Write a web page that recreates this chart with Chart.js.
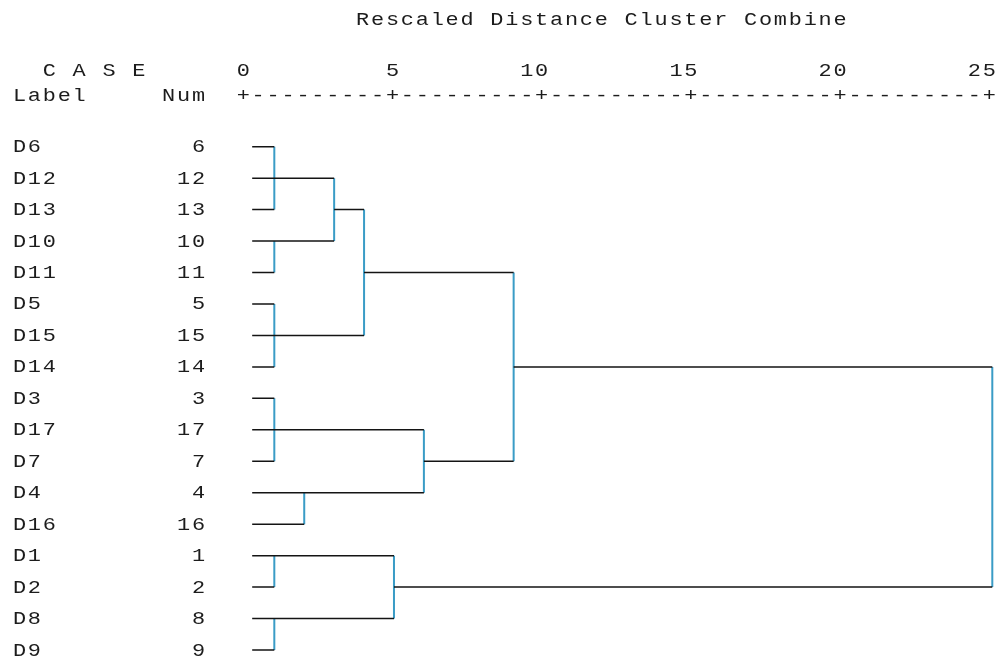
<!DOCTYPE html>
<html>
<head>
<meta charset="utf-8">
<script src="https://cdn.jsdelivr.net/npm/chart.js@4"></script>
<style>
  html, body { margin: 0; padding: 0; background: #ffffff; }
  #wrap { width: 1006px; height: 659px; position: relative; }
</style>
</head>
<body>
<div id="wrap"><canvas id="c" width="1006" height="659"></canvas></div>
<script>
// ---- data ----
const leafLabels = ['D6','D12','D13','D10','D11','D5','D15','D14','D3','D17','D7','D4','D16','D1','D2','D8','D9'];
const leafNums   = [6, 12, 13, 10, 11, 5, 15, 14, 3, 17, 7, 4, 16, 1, 2, 8, 9];
// agglomeration: positive = case number, negative = earlier step (1-based)
const mergeA    = [6, -1, 10, 5, -4, 3, -6, 1, 8, 4, -2, -11, -8, -7, -12, -15];
const mergeB    = [12, 13, 11, 15, 14, 17, 7, 2, 9, 16, -3, -5, -9, -10, -14, -13];
const mergeDist = [1, 1, 1, 1, 1, 1, 1, 1, 1, 2, 3, 4, 5, 6, 9, 25];
const tickValues = [0, 5, 10, 15, 20, 25];
const titleText = 'Rescaled Distance Cluster Combine';
const caseHeader = 'C A S E';
const labelHeader = 'Label';
const numHeader = 'Num';

// ---- style ----
const LEAF_START = 0.26;
const CELL_W = 14.92;
const GRID_X0 = 12.0;
const FONT = '18px "Liberation Mono", "DejaVu Sans Mono", monospace';
const TEXT_COLOR = '#1c1c1c';
const H_COLOR = '#141414';
const V_COLOR = '#3a9cc6';

// ---- build segments ----
const clusters = [];
function node(id) {
  if (id > 0) return { row: leafNums.indexOf(id), x: LEAF_START };
  return clusters[-id - 1];
}
const horiz = [], vert = [];
for (let i = 0; i < mergeDist.length; i++) {
  const a = node(mergeA[i]), b = node(mergeB[i]), d = mergeDist[i];
  horiz.push({x: a.x, y: a.row}, {x: d, y: a.row}, {x: d, y: null});
  horiz.push({x: b.x, y: b.row}, {x: d, y: b.row}, {x: d, y: null});
  vert.push({x: d, y: a.row}, {x: d, y: b.row}, {x: d, y: null});
  clusters.push({ row: Math.floor((a.row + b.row) / 2), x: d });
}

// ---- text plugin ----
function drawGridText(ctx, str, col, baseline, sx) {
  for (let k = 0; k < str.length; k++) {
    const ch = str[k];
    if (ch === ' ') continue;
    const cx = GRID_X0 + (col + k + 0.5) * CELL_W;
    ctx.save();
    ctx.translate(cx, baseline);
    ctx.scale(sx, 1);
    ctx.fillText(ch, 0, 0);
    ctx.restore();
  }
}
const textPlugin = {
  id: 'spssText',
  afterDraw(chart) {
    const ctx = chart.ctx;
    const ys = chart.scales.y;
    ctx.save();
    ctx.font = FONT;
    ctx.fillStyle = TEXT_COLOR;
    ctx.textAlign = 'center';
    ctx.textBaseline = 'alphabetic';
    const sx = 0.88 * CELL_W / ctx.measureText('M').width;
    const axisCol = 15;
    drawGridText(ctx, titleText, axisCol + 8, 24.5, sx);
    drawGridText(ctx, caseHeader, 2, 75.5, sx);
    drawGridText(ctx, labelHeader, 0, 101, sx);
    drawGridText(ctx, numHeader, 10, 101, sx);
    const span = tickValues[tickValues.length - 1] - tickValues[0];
    const colsPerUnit = 50 / span;
    tickValues.forEach(v => {
      const s = String(v);
      const endCol = axisCol + Math.round((v - tickValues[0]) * colsPerUnit);
      drawGridText(ctx, s, endCol - s.length + 1, 75.5, sx);
    });
    let axis = '+';
    for (let t = 1; t < tickValues.length; t++) {
      const n = Math.round((tickValues[t] - tickValues[t - 1]) * colsPerUnit) - 1;
      axis += '-'.repeat(n) + '+';
    }
    drawGridText(ctx, axis, axisCol, 101, sx);
    leafLabels.forEach((lab, i) => {
      const y = ys.getPixelForValue(i) + 5.5;
      drawGridText(ctx, lab, 0, y, sx);
      const s = String(leafNums[i]);
      drawGridText(ctx, s, 13 - s.length, y, sx);
    });
    ctx.restore();
  }
};

new Chart(document.getElementById('c'), {
  type: 'line',
  data: {
    datasets: [
      { data: horiz, borderColor: H_COLOR, borderWidth: 1.5, pointRadius: 0, tension: 0, spanGaps: false, fill: false, borderCapStyle: 'butt', clip: false },
      { data: vert, borderColor: V_COLOR, borderWidth: 2, pointRadius: 0, tension: 0, spanGaps: false, fill: false, borderCapStyle: 'butt', clip: false }
    ]
  },
  options: {
    responsive: false,
    animation: false,
    devicePixelRatio: 1,
    layout: { padding: { left: 244.4, right: 13.7, top: 146.7, bottom: 9 } },
    plugins: { legend: { display: false }, tooltip: { enabled: false } },
    scales: {
      x: { type: 'linear', min: 0, max: 25, display: false },
      y: { type: 'linear', min: 0, max: 16, reverse: true, display: false }
    },
    events: []
  },
  plugins: [textPlugin]
});
</script>
</body>
</html>
